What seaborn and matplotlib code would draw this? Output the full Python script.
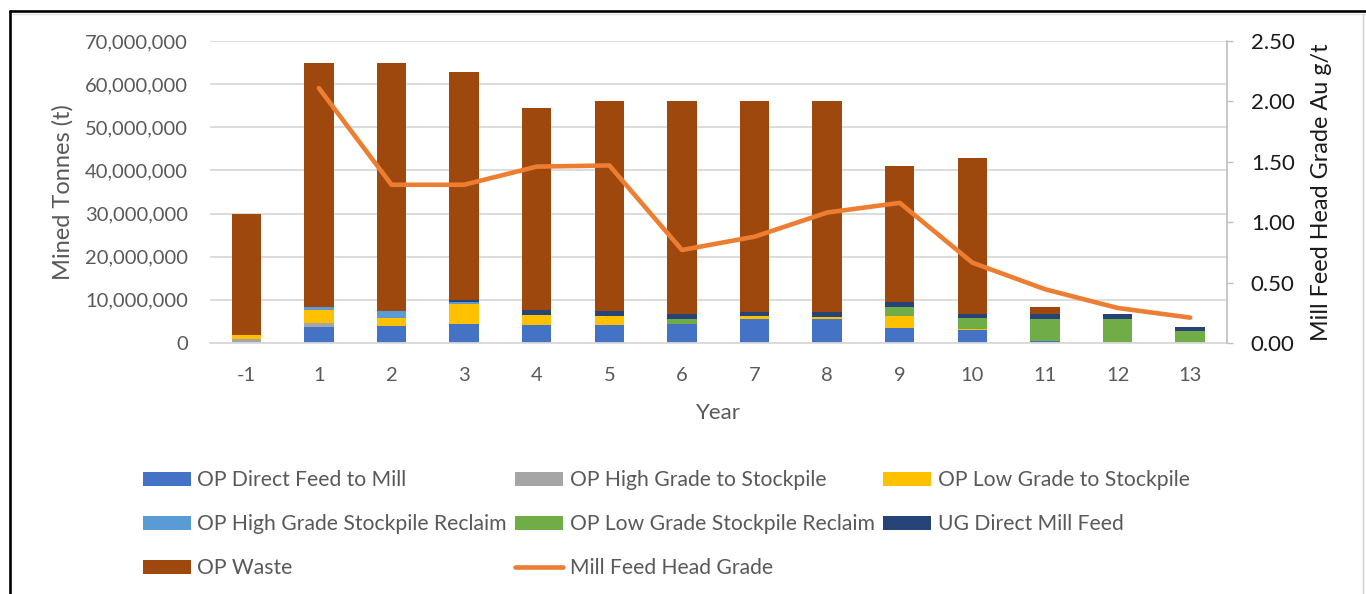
import numpy as np
import pandas as pd
import matplotlib
matplotlib.use("Agg")
import matplotlib.pyplot as plt
from matplotlib.lines import Line2D
from matplotlib.patches import Patch
from matplotlib.ticker import FuncFormatter, MultipleLocator
import seaborn as sns

# ---- data (tonnes in millions, grade in g/t Au) ----
years = ["-1", "1", "2", "3", "4", "5", "6", "7", "8", "9", "10", "11", "12", "13"]
op_direct_feed = [0.0, 3.6, 3.95, 4.45, 4.15, 4.15, 4.4, 5.5, 5.5, 3.4, 2.95, 0.4, 0.0, 0.0]
op_hg_to_stockpile = [0.85, 1.05, 0.0, 0.0, 0.0, 0.0, 0.0, 0.0, 0.0, 0.0, 0.0, 0.0, 0.0, 0.0]
op_lg_to_stockpile = [0.9, 3.1, 1.85, 4.5, 2.3, 2.1, 0.0, 0.75, 0.55, 2.95, 0.3, 0.0, 0.0, 0.0]
op_hg_reclaim = [0.0, 0.55, 1.55, 0.45, 0.0, 0.0, 0.0, 0.0, 0.0, 0.0, 0.0, 0.0, 0.0, 0.0]
op_lg_reclaim = [0.0, 0.0, 0.0, 0.0, 0.0, 0.0, 1.1, 0.0, 0.0, 2.1, 2.55, 5.2, 5.5, 2.7]
ug_direct_feed = [0.0, 0.0, 0.0, 0.65, 1.2, 1.2, 1.2, 1.0, 1.25, 1.1, 0.95, 1.15, 1.3, 0.95]
op_waste = [28.25, 56.6, 57.55, 52.65, 46.75, 48.55, 49.3, 48.75, 48.7, 31.55, 36.05, 1.6, 0.0, 0.0]
head_grade = [np.nan, 2.11, 1.31, 1.31, 1.46, 1.47, 0.77, 0.88, 1.08, 1.16, 0.665, 0.445, 0.29, 0.21]

series = [
    ("OP Direct Feed to Mill", op_direct_feed, "#4472C4"),
    ("OP High Grade to Stockpile", op_hg_to_stockpile, "#A5A5A5"),
    ("OP Low Grade to Stockpile", op_lg_to_stockpile, "#FFC000"),
    ("OP High Grade Stockpile Reclaim", op_hg_reclaim, "#5B9BD5"),
    ("OP Low Grade Stockpile Reclaim", op_lg_reclaim, "#70AD47"),
    ("UG Direct Mill Feed", ug_direct_feed, "#264478"),
    ("OP Waste", op_waste, "#9E480E"),
]
line_color = "#ED7D31"
line_label = "Mill Feed Head Grade"

# ---- style ----
sns.set_theme(style="white")
plt.rcParams["font.family"] = ["Lato", "DejaVu Sans"]
text_grey = "#595959"
grid_grey = "#D9D9D9"

W, H = 1366, 594
fig = plt.figure(figsize=(W / 100, H / 100), dpi=100)
fig.patch.set_facecolor("white")
ax = fig.add_axes([210 / W, 1 - 343 / H, 1016.5 / W, 302 / H])

# stacked bars: draw cumulative totals from the top layer down
cum = np.zeros(len(years))
layers = []
for name, vals, col in series:
    cum = cum + np.asarray(vals) * 1e6
    layers.append((name, cum.copy(), col))

for name, heights, col in reversed(layers):
    df = pd.DataFrame({"Year": years, "Tonnes": heights})
    sns.barplot(data=df, x="Year", y="Tonnes", order=years, color=col,
                saturation=1, width=0.405, errorbar=None, ax=ax, zorder=2,
                linewidth=0)

ax.set_xlim(-0.5, len(years) - 0.5)
ax.set_ylim(0, 70e6)
ax.yaxis.set_major_locator(MultipleLocator(10e6))
ax.yaxis.set_major_formatter(FuncFormatter(lambda v, p: f"{v:,.0f}"))
ax.grid(axis="y", color=grid_grey, lw=1.3, zorder=0)
ax.set_axisbelow(True)
for s in ["left", "top", "right"]:
    ax.spines[s].set_visible(False)
ax.spines["bottom"].set_color(grid_grey)
ax.spines["bottom"].set_linewidth(1.3)
ax.tick_params(axis="y", length=0, pad=16, labelsize=14.5, labelcolor=text_grey)
ax.tick_params(axis="x", length=0, pad=17, labelsize=14.5, labelcolor=text_grey)
ax.set_xlabel("Year", fontsize=16, color=text_grey, labelpad=14)
ax.set_ylabel("Mined Tonnes (t)", fontsize=17, color=text_grey, labelpad=8)

# grade line on secondary axis
ax2 = ax.twinx()
pos = np.arange(len(years))
gdf = pd.DataFrame({"pos": pos, "grade": head_grade}).dropna()
sns.lineplot(data=gdf, x="pos", y="grade", ax=ax2, color=line_color, lw=3.3,
             solid_capstyle="round", solid_joinstyle="round", zorder=3)
ax2.set_ylim(0, 2.5)
ax2.yaxis.set_major_locator(MultipleLocator(0.5))
ax2.yaxis.set_major_formatter(FuncFormatter(lambda v, p: f"{v:.2f}"))
for s in ["left", "top", "bottom"]:
    ax2.spines[s].set_visible(False)
ax2.spines["right"].set_color("#BFBFBF")
ax2.spines["right"].set_linewidth(1.2)
ax2.tick_params(axis="y", direction="out", length=4.5, width=1.0, color="#BFBFBF",
                pad=13, labelsize=16, labelcolor="#1A1A1A")
ax2.set_ylabel("Mill Feed Head Grade Au g/t", fontsize=16.8, color="#1A1A1A", labelpad=12)
ax2.set_xlabel("")
ax2.grid(False)

# legend (three columns, filled column by column)
handles = {name: Patch(facecolor=col, edgecolor="none") for name, _, col in series}
handles[line_label] = Line2D([0], [0], color=line_color, lw=3.3, solid_capstyle="round")
order = ["OP Direct Feed to Mill", "OP High Grade Stockpile Reclaim", "OP Waste",
         "OP High Grade to Stockpile", "OP Low Grade Stockpile Reclaim", line_label,
         "OP Low Grade to Stockpile", "UG Direct Mill Feed"]
leg = fig.legend([handles[k] for k in order], order, ncol=3, frameon=False,
                 loc="upper left", bbox_to_anchor=(143 / W, 1 - 470.5 / H),
                 bbox_transform=fig.transFigure, borderpad=0, borderaxespad=0,
                 fontsize=15.2, handlelength=2.25, handleheight=0.6,
                 handletextpad=0.33, labelspacing=1.135, columnspacing=0.4)
for t in leg.get_texts():
    t.set_color(text_grey)

# chart frame
def fx(x):
    return x / W

def fy(y):
    return 1 - y / H

fig.add_artist(Line2D([fx(10), fx(10)], [0, fy(11)], color="black", lw=1.9))
fig.add_artist(Line2D([fx(10), 1], [fy(11), fy(11)], color="black", lw=1.9))
fig.add_artist(Line2D([fx(13), 1], [fy(14), fy(14)], color="#E3E3E3", lw=1.0))
fig.add_artist(Line2D([fx(1363), fx(1363)], [0, fy(14)], color="#D0D0D0", lw=1.0))

fig.savefig("out.png", dpi=100, facecolor="white")
